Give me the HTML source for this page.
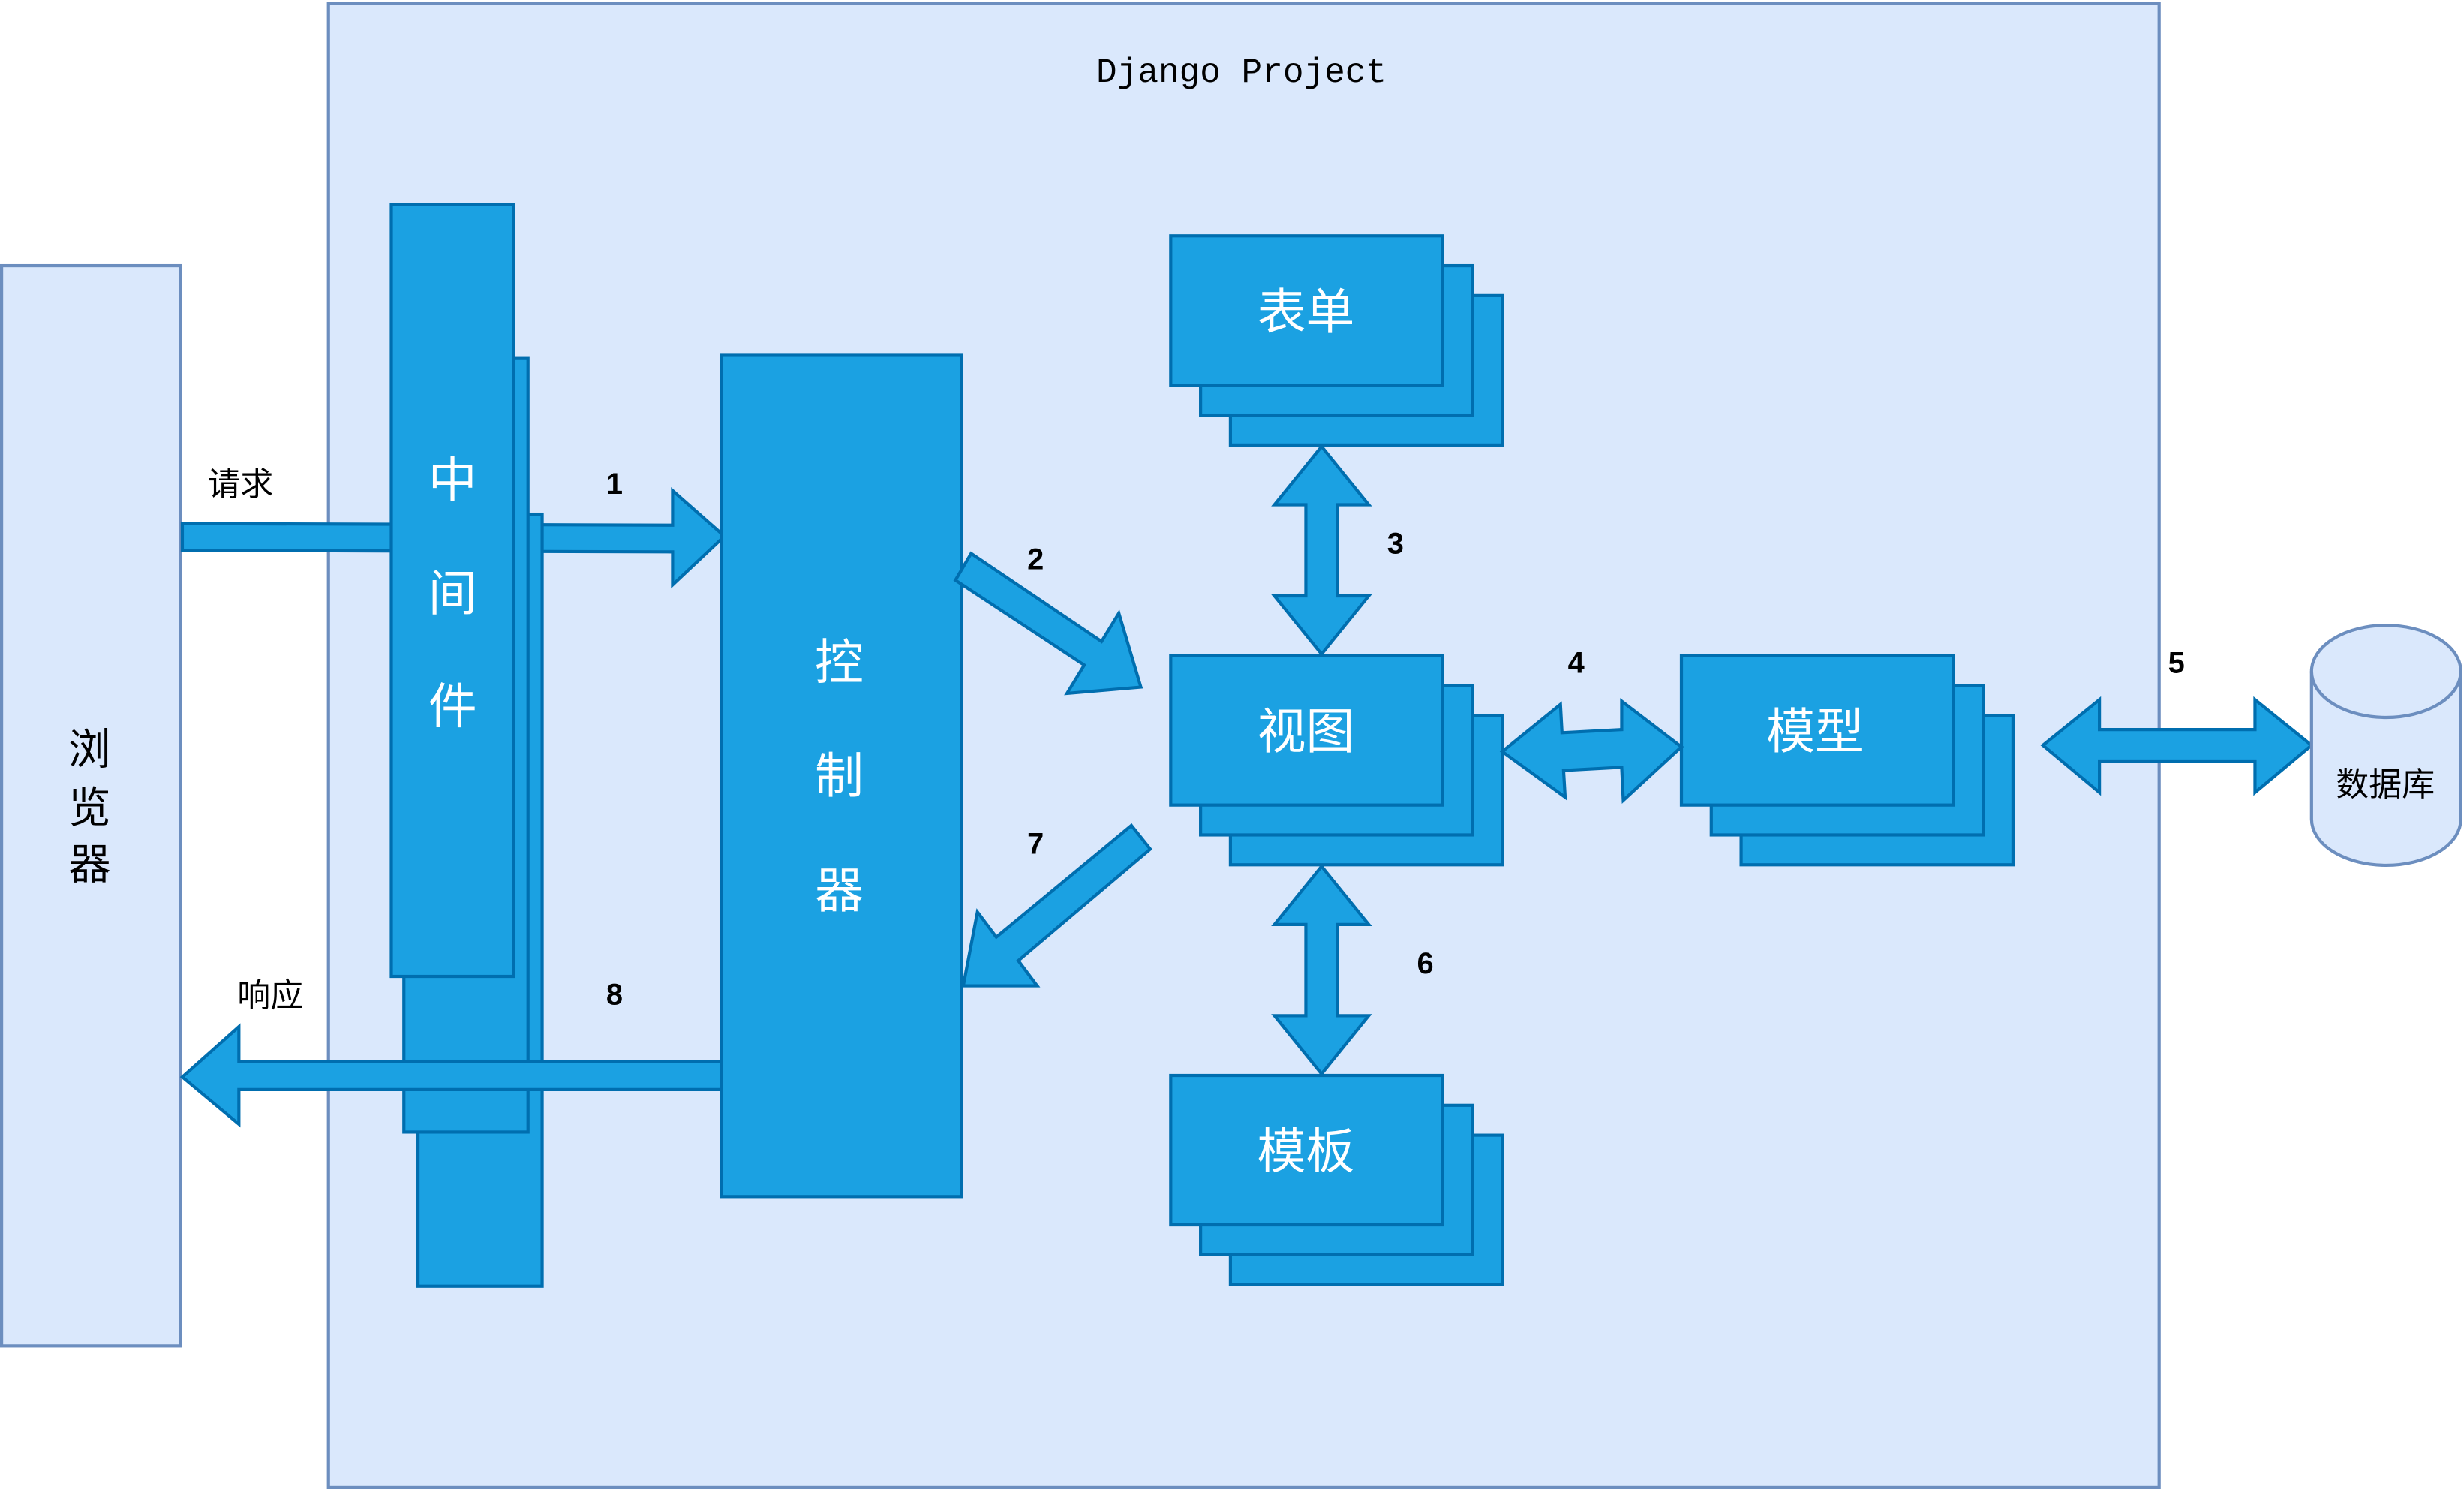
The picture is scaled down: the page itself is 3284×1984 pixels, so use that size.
<!DOCTYPE html>
<html><head><meta charset="utf-8"><style>html,body{margin:0;padding:0;background:#fff;}svg{display:block}</style></head>
<body>
<svg width="3284" height="1984" viewBox="0 0 1568 947" preserveAspectRatio="none" xmlns="http://www.w3.org/2000/svg">
<g font-family="Liberation Sans, Noto Sans CJK SC, sans-serif">
<rect x="209" y="2" width="1165" height="944" fill="#dae8fc" stroke="#6c8ebf" stroke-width="2"/>
<text x="790" y="52" font-family="Liberation Mono, monospace" font-size="22" text-anchor="middle" fill="#000">Django Project</text>
<rect x="1" y="169" width="114" height="687" fill="#dae8fc" stroke="#6c8ebf" stroke-width="2"/>
<g font-size="27" text-anchor="middle" fill="#000"><text x="57" y="486">浏</text><text x="57" y="523">览</text><text x="57" y="559">器</text></g>
<g fill="#1ba1e2" stroke="#006eaf" stroke-width="2">
<polygon points="116,333 428,334 428,312 461,341 428,372 428,351 116,350"/>
<rect x="266" y="327" width="79" height="491"/>
<rect x="257" y="228" width="79" height="492"/>
<rect x="249" y="130" width="78" height="491"/>
<rect x="459" y="226" width="153" height="535"/>
<polygon points="116,685 152,653 152,675 459,675 459,693 152,693 152,715"/>
<polygon points="608,369 618,352 701,408 712,390 726,437 679,441 690,423"/>
<polygon points="720,525 732,540 648,611 660,627 613,627 622,580 634,596"/>
<rect x="783" y="188" width="173" height="95"/><rect x="764" y="169" width="173" height="95"/><rect x="745" y="150" width="173" height="95"/>
<rect x="783" y="455" width="173" height="95"/><rect x="764" y="436" width="173" height="95"/><rect x="745" y="417" width="173" height="95"/>
<rect x="783" y="722" width="173" height="95"/><rect x="764" y="703" width="173" height="95"/><rect x="745" y="684" width="173" height="95"/>
<rect x="1108" y="455" width="173" height="95"/><rect x="1089" y="436" width="173" height="95"/><rect x="1070" y="417" width="173" height="95"/>
<polygon points="841,284 871,321 851,321 851,379 871,379 841,416 811,379 831,379 831,321 811,321"/>
<polygon points="841,551 871,588 851,588 851,646 871,646 841,683 811,646 831,646 831,588 811,588"/>
<polygon points="956,478 993,448 994,466 1032,464 1032,446 1070,475 1033,509 1032,488 995,490 996,507"/>
<polygon points="1300,474 1336,445 1336,464 1435,464 1435,445 1471,474 1435,504 1435,484 1336,484 1336,504"/>
</g>
<g fill="#dae8fc" stroke="#6c8ebf" stroke-width="2">
<path d="M1471,427 A47,29 0 0 1 1566,427 L1566,521 A47,29 0 0 1 1471,521 Z"/>
<path d="M1471,427 A47,29 0 0 0 1566,427" fill="none"/>
</g>
<g fill="#fff" font-size="31" text-anchor="middle">
<text x="288" y="316">中</text><text x="288" y="388">间</text><text x="288" y="460">件</text>
<text x="534" y="432">控</text><text x="534" y="504">制</text><text x="534" y="577">器</text>
<text x="831" y="209">表单</text><text x="831" y="476">视图</text><text x="831" y="743">模板</text><text x="1155" y="476">模型</text>
</g>
<text x="1518" y="506" font-size="21" text-anchor="middle" fill="#000">数据库</text>
<g font-size="21" fill="#000" text-anchor="middle"><text x="153" y="315">请求</text><text x="172" y="640">响应</text></g>
<g font-size="19" font-weight="bold" fill="#000" text-anchor="middle">
<text x="391" y="314">1</text><text x="659" y="362">2</text><text x="888" y="352">3</text><text x="1003" y="428">4</text><text x="1385" y="428">5</text><text x="907" y="619">6</text><text x="659" y="543">7</text><text x="391" y="639">8</text>
</g>
</g>
</svg>
</body></html>
